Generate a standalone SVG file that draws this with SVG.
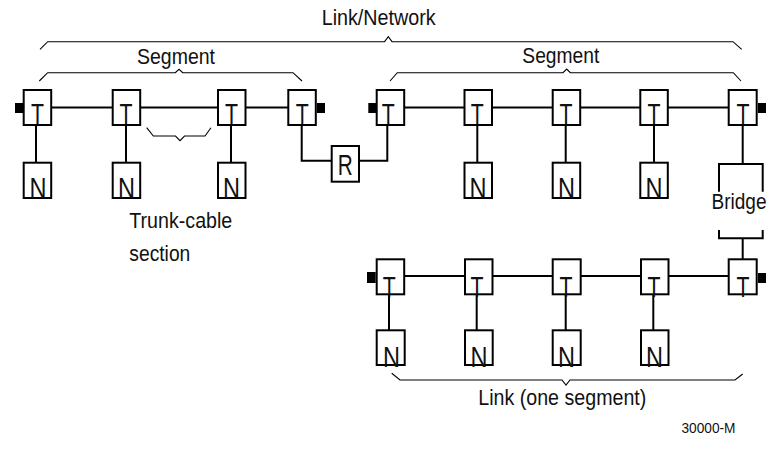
<svg xmlns="http://www.w3.org/2000/svg" width="771" height="456" viewBox="0 0 771 456">
<style>
.box{fill:#fff;stroke:#000;stroke-width:2}
.ln{fill:none;stroke:#000;stroke-width:2}
.br{fill:none;stroke:#000;stroke-width:1.1}
.term{fill:#000}
.lbl{font-family:"Liberation Sans Narrow","Liberation Sans",Arial,sans-serif;font-size:22px;fill:#111}
.big{font-family:"Liberation Sans Narrow","Liberation Sans",Arial,sans-serif;font-size:29px;fill:#111}
.sm{font-family:"Liberation Sans Narrow","Liberation Sans",Arial,sans-serif;font-size:15px;fill:#111}
</style>
<rect width="771" height="456" fill="#fff"/>
<g id="connectors">
  <line class="ln" x1="52" y1="107.5" x2="288" y2="107.5"/>
  <line class="ln" x1="405" y1="107.5" x2="728" y2="107.5"/>
  <line class="ln" x1="405" y1="276" x2="728" y2="276"/>
  <line class="ln" x1="36" y1="125" x2="36" y2="162"/>
  <line class="ln" x1="126" y1="125" x2="126" y2="162"/>
  <line class="ln" x1="231" y1="125" x2="231" y2="162"/>
  <line class="ln" x1="477.3" y1="125" x2="477.3" y2="162"/>
  <line class="ln" x1="565.7" y1="125" x2="565.7" y2="162"/>
  <line class="ln" x1="654" y1="125" x2="654" y2="162"/>
  <line class="ln" x1="389" y1="294" x2="389" y2="330"/>
  <line class="ln" x1="476.7" y1="294" x2="476.7" y2="330"/>
  <line class="ln" x1="565.7" y1="294" x2="565.7" y2="330"/>
  <line class="ln" x1="653.3" y1="294" x2="653.3" y2="330"/>
  <path class="ln" d="M301.7,125 V160.7 H331.7 M359.5,160.7 H387.3 V125"/>
  <path class="ln" d="M742.7,125 V164 M742.7,238.3 V259"/>
</g>
<g id="braces">
  <path class="br" d="M40,49.3 L47.7,41.7 H384.6 L388.3,36.7 L392,41.7 H733 L741.7,49.3"/>
  <path class="br" d="M39.3,81 L47.7,72.7 H175.3 L179,69.3 L182.7,72.7 H293 L302,81"/>
  <path class="br" d="M390,81 L397.3,72.7 H563 L566.7,69 L570.3,72.7 H733.3 L741,81"/>
  <path class="br" d="M146.7,127.7 L153.3,136 H175.5 L180,140.7 L184.5,136 H205 L211,127.7"/>
  <path class="br" d="M391.7,373.3 L400,380 H562 L566,385 L570,380 H735 L742.7,374"/>
</g>
<g id="labels">
  <text class="lbl" x="321.7" y="25" textLength="114" lengthAdjust="spacingAndGlyphs">Link/Network</text>
  <text class="lbl" x="137" y="64" textLength="78" lengthAdjust="spacingAndGlyphs">Segment</text>
  <text class="lbl" x="522.3" y="63.3" textLength="77" lengthAdjust="spacingAndGlyphs">Segment</text>
  <text class="lbl" x="129.3" y="228" textLength="103" lengthAdjust="spacingAndGlyphs">Trunk-cable</text>
  <text class="lbl" x="129.3" y="261" textLength="61" lengthAdjust="spacingAndGlyphs">section</text>
  <text class="lbl" x="478.3" y="405" textLength="168" lengthAdjust="spacingAndGlyphs">Link (one segment)</text>
  <text class="sm" x="681.5" y="433" textLength="54" lengthAdjust="spacingAndGlyphs">30000-M</text>
</g>
<g id="T1"><rect class="term" x="15" y="103" width="8" height="10"/><rect class="box" x="23.7" y="90" width="27.5" height="35"/><text class="big" x="31" y="124" textLength="13" lengthAdjust="spacingAndGlyphs">T</text></g>
<g id="T2"><rect class="box" x="112.7" y="90" width="27.5" height="35"/><text class="big" x="119.5" y="124" textLength="13" lengthAdjust="spacingAndGlyphs">T</text></g>
<g id="T3"><rect class="box" x="218" y="90" width="27.5" height="35"/><text class="big" x="225" y="124" textLength="13" lengthAdjust="spacingAndGlyphs">T</text></g>
<g id="T4"><rect class="box" x="288.3" y="90" width="27.5" height="35"/><rect class="term" x="317" y="103" width="8" height="10"/><text class="big" x="295.8" y="124" textLength="13" lengthAdjust="spacingAndGlyphs">T</text></g>
<g id="T5"><rect class="term" x="368.3" y="103" width="8" height="10"/><rect class="box" x="376.7" y="90" width="27.5" height="35"/><text class="big" x="381.8" y="124" textLength="13" lengthAdjust="spacingAndGlyphs">T</text></g>
<g id="T6"><rect class="box" x="464.5" y="90" width="27.5" height="35"/><text class="big" x="470.8" y="124" textLength="13" lengthAdjust="spacingAndGlyphs">T</text></g>
<g id="T7"><rect class="box" x="552.7" y="90" width="27.5" height="35"/><text class="big" x="559.5" y="124" textLength="13" lengthAdjust="spacingAndGlyphs">T</text></g>
<g id="T8"><rect class="box" x="640.3" y="90" width="27.5" height="35"/><text class="big" x="647.5" y="124" textLength="13" lengthAdjust="spacingAndGlyphs">T</text></g>
<g id="T9"><rect class="box" x="728.7" y="90" width="28" height="35"/><rect class="term" x="758" y="103" width="8" height="10"/><text class="big" x="736.5" y="124" textLength="13" lengthAdjust="spacingAndGlyphs">T</text></g>
<g id="N1"><rect class="box" x="23.7" y="162.7" width="27.5" height="35.3"/><text class="big" x="29.5" y="198" textLength="17" lengthAdjust="spacingAndGlyphs">N</text></g>
<g id="N2"><rect class="box" x="112.7" y="162.7" width="27.5" height="35.3"/><text class="big" x="118" y="198" textLength="17" lengthAdjust="spacingAndGlyphs">N</text></g>
<g id="N3"><rect class="box" x="218" y="162.7" width="27.5" height="35.3"/><text class="big" x="223" y="198" textLength="17" lengthAdjust="spacingAndGlyphs">N</text></g>
<g id="N6"><rect class="box" x="464.5" y="162.7" width="27.5" height="35.3"/><text class="big" x="469.5" y="198" textLength="17" lengthAdjust="spacingAndGlyphs">N</text></g>
<g id="N7"><rect class="box" x="552.7" y="162.7" width="27.5" height="35.3"/><text class="big" x="558" y="198" textLength="17" lengthAdjust="spacingAndGlyphs">N</text></g>
<g id="N8"><rect class="box" x="640.3" y="162.7" width="27.5" height="35.3"/><text class="big" x="645.5" y="198" textLength="17" lengthAdjust="spacingAndGlyphs">N</text></g>
<g id="R"><rect class="box" x="331.7" y="146" width="27.3" height="35.7"/><text class="big" x="337.8" y="175" font-size="26" textLength="15" lengthAdjust="spacingAndGlyphs">R</text></g>
<g id="Bridge">
  <path class="ln" d="M719,191.7 V164 H762.7 V191.7 M719,230 V238.3 H762.7 V230"/>
  <text class="lbl" x="711.5" y="209.3" textLength="55" lengthAdjust="spacingAndGlyphs">Bridge</text>
</g>
<g id="T11"><rect class="term" x="367" y="272" width="8.7" height="11"/><rect class="box" x="376.7" y="259.3" width="27.5" height="35"/><text class="big" x="382.8" y="297" textLength="13" lengthAdjust="spacingAndGlyphs">T</text></g>
<g id="T12"><rect class="box" x="465" y="259.3" width="27.5" height="35"/><text class="big" x="470.5" y="297" textLength="13" lengthAdjust="spacingAndGlyphs">T</text></g>
<g id="T13"><rect class="box" x="552.7" y="259.3" width="28" height="35"/><text class="big" x="559.5" y="297" textLength="13" lengthAdjust="spacingAndGlyphs">T</text></g>
<g id="T14"><rect class="box" x="641" y="259.3" width="27.5" height="35"/><text class="big" x="647.5" y="297" textLength="13" lengthAdjust="spacingAndGlyphs">T</text></g>
<g id="T15"><rect class="box" x="728.7" y="259.3" width="28" height="35"/><rect class="term" x="758" y="273" width="8" height="10"/><text class="big" x="736.5" y="297" textLength="13" lengthAdjust="spacingAndGlyphs">T</text></g>
<g id="N11"><rect class="box" x="376.7" y="330.3" width="28" height="34.7"/><text class="big" x="383" y="367" textLength="17" lengthAdjust="spacingAndGlyphs">N</text></g>
<g id="N12"><rect class="box" x="465" y="330.3" width="27.7" height="34.7"/><text class="big" x="470.5" y="367" textLength="17" lengthAdjust="spacingAndGlyphs">N</text></g>
<g id="N13"><rect class="box" x="552.7" y="330.3" width="28" height="34.7"/><text class="big" x="558" y="367" textLength="17" lengthAdjust="spacingAndGlyphs">N</text></g>
<g id="N14"><rect class="box" x="641" y="330.3" width="27.5" height="34.7"/><text class="big" x="646" y="367" textLength="17" lengthAdjust="spacingAndGlyphs">N</text></g>
</svg>
